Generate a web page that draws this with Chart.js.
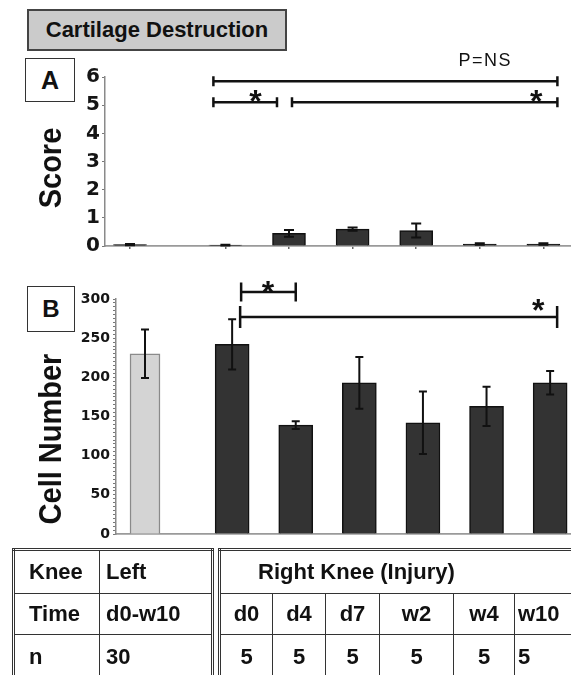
<!DOCTYPE html>
<html><head><meta charset="utf-8">
<script src="https://cdn.jsdelivr.net/npm/chart.js@4.4.1/dist/chart.umd.min.js"></script>
<style>
html,body{margin:0;padding:0;background:#fff;width:571px;height:675px;overflow:hidden;font-family:"Liberation Sans",Arial,sans-serif;}
body{position:relative;}
canvas{position:absolute;left:0;}
#cA{top:0px;}
#cB{top:262px;}
.box{position:absolute;background:#fff;border:1.5px solid #333;box-sizing:border-box;display:flex;align-items:center;justify-content:center;font-weight:bold;color:#111;}
#title{left:27px;top:9px;width:260px;height:42px;background:#cbcbcb;border:2px solid #444;font-size:22px;}
#boxA{left:25px;top:58px;width:50px;height:44px;font-size:25px;}
#boxB{left:27px;top:286px;width:48px;height:46px;font-size:24px;}
.ytitle{position:absolute;width:240px;height:34px;line-height:34px;text-align:center;font-weight:bold;font-size:29px;color:#111;transform:rotate(-90deg) scaleY(1.1);}
table{position:absolute;border-collapse:collapse;border:3px double #333;font-weight:bold;font-size:22px;color:#111;table-layout:fixed;}
td{border:1.5px solid #333;padding:0;white-space:nowrap;}
</style></head>
<body>
<canvas id="cA" width="571" height="260"></canvas>
<canvas id="cB" width="571" height="286"></canvas>
<div id="title" class="box">Cartilage Destruction</div>
<div id="boxA" class="box">A</div>
<div id="boxB" class="box">B</div>
<div class="ytitle" style="left:-70px;top:151px;">Score</div>
<div class="ytitle" style="left:-70px;top:422px;">Cell Number</div>
<table id="tLeft" style="left:12px;top:548px;width:199px;"></table>
<table id="tRight" style="left:218px;top:548px;width:362px;"></table>
<script>
// ---- data ----
const categories = ['Left','d0','d4','d7','w2','w4','w10'];
const scoreMeans = [0.05, 0.03, 0.45, 0.60, 0.55, 0.07, 0.07];
const scoreErrors = [0.02, 0.01, 0.12, 0.06, 0.25, 0.03, 0.03];
const cellMeans = [230, 242, 139, 193, 142, 163, 193];
const cellErrors = [31, 32, 5, 33, 40, 25, 15];
const scoreTicks = [0,1,2,3,4,5,6];
const cellTicks = [0,50,100,150,200,250,300];
const kneeRow = ['Knee','Left','Right Knee (Injury)'];
const timeRow = ['Time','d0-w10','d0','d4','d7','w2','w4','w10'];
const nRow = ['n','30','5','5','5','5','5','5'];
const scoreBrackets = [
  {from:'d0', to:'w10', level:5.85, label:'P=NS'},
  {from:'d0', to:'d4', level:5.1, label:'*'},
  {from:'d4', to:'w10', level:5.1, label:'*'}
];
const cellBrackets = [
  {from:'d0', to:'d4', level:309, label:'*'},
  {from:'d0', to:'w10', level:277, label:'*'}
];

// ---- layout / style ----
const STAR_FONT = 'bold 32px "Liberation Sans", Arial';
const scoreBracketStyle = [
  {dx1:-12, dx2:14, cap:5, pos:0.79, dy:-20, font:'18px "Liberation Sans", Arial', spacing:'1.5px', star:false},
  {dx1:-12, dx2:-12, cap:5, pos:0.66, dy:-9, font:STAR_FONT, star:true},
  {dx1:3, dx2:14, cap:5, pos:0.92, dy:-9, font:STAR_FONT, star:true}
];
const cellBracketStyle = [
  {dx1:9, dx2:0, cap:9.5, pos:0.49, dy:-7, font:STAR_FONT, star:true},
  {dx1:8, dx2:7, cap:11, pos:0.94, dy:-14, font:STAR_FONT, star:true}
];

function makeXPos(gap){ return i => (i === 0 ? 0 : gap + (i - 1)); }

const errorBarPlugin = {
  id: 'errorBars',
  afterDatasetsDraw(chart, args, opts){
    const ctx = chart.ctx, y = chart.scales.y;
    chart.data.datasets.forEach((ds, di) => {
      const meta = chart.getDatasetMeta(di);
      meta.data.forEach((el, i) => {
        const v = ds.data[i].y, e = ds.errors[i];
        const yt = y.getPixelForValue(v + e);
        const yb = y.getPixelForValue(Math.max(v - e, 0));
        const cap = opts.cap;
        ctx.save();
        ctx.strokeStyle = '#111';
        ctx.lineWidth = 2;
        ctx.beginPath();
        ctx.moveTo(el.x, yt); ctx.lineTo(el.x, yb);
        ctx.moveTo(el.x - cap, yt); ctx.lineTo(el.x + cap, yt);
        ctx.moveTo(el.x - cap, yb); ctx.lineTo(el.x + cap, yb);
        ctx.stroke();
        ctx.restore();
      });
    });
  }
};

function bracketPlugin(brackets, styles, xPos){
  return {
    id: 'brackets',
    afterDraw(chart){
      const ctx = chart.ctx, xs = chart.scales.x, ys = chart.scales.y;
      brackets.forEach((b, k) => {
        const st = styles[k];
        const x1 = xs.getPixelForValue(xPos(categories.indexOf(b.from))) + st.dx1;
        const x2 = xs.getPixelForValue(xPos(categories.indexOf(b.to))) + st.dx2;
        const yy = ys.getPixelForValue(b.level);
        ctx.save();
        ctx.strokeStyle = '#111';
        ctx.lineWidth = 2.5;
        ctx.beginPath();
        ctx.moveTo(x1, yy); ctx.lineTo(x2, yy);
        ctx.moveTo(x1, yy - st.cap); ctx.lineTo(x1, yy + st.cap);
        ctx.moveTo(x2, yy - st.cap); ctx.lineTo(x2, yy + st.cap);
        ctx.stroke();
        ctx.fillStyle = '#111';
        ctx.font = st.font;
        ctx.textAlign = 'center';
        const tx = x1 + (x2 - x1) * st.pos;
        if (st.star) {
          ctx.textBaseline = 'alphabetic';
          ctx.fillText(b.label, tx, yy + st.dy + 0.57 * 32);
        } else {
          if (st.spacing) ctx.letterSpacing = st.spacing;
          ctx.textBaseline = 'middle';
          ctx.fillText(b.label, tx, yy + st.dy);
        }
        ctx.restore();
      });
    }
  };
}

function makePanel(id, means, errors, cfg){
  const xPos = makeXPos(cfg.gap);
  const pts = means.map((m, i) => ({x: xPos(i), y: m}));
  return new Chart(document.getElementById(id), {
    type: 'bar',
    data: {
      datasets: [
        {data: pts.slice(0, 1), errors: errors.slice(0, 1), backgroundColor: cfg.leftFill, borderColor: cfg.leftBorder,
         borderWidth: 1.5, barThickness: cfg.leftWidth, grouped: false},
        {data: pts.slice(1), errors: errors.slice(1), backgroundColor: '#333333', borderColor: '#111',
         borderWidth: 1.5, barThickness: cfg.barWidth, grouped: false}
      ]
    },
    options: {
      responsive: false,
      animation: false,
      events: [],
      layout: {padding: {top: cfg.padTop, bottom: cfg.padBottom, left: 0, right: 0}},
      plugins: {legend: {display: false}, tooltip: {enabled: false}, errorBars: {cap: cfg.cap}},
      scales: {
        x: {
          type: 'linear', min: cfg.xMin, max: cfg.xMax, offset: false,
          afterBuildTicks: s => { s.ticks = means.map((m, i) => ({value: xPos(i)})); },
          afterFit: s => { s.height = cfg.xHeight; },
          ticks: {display: false},
          grid: {drawOnChartArea: false, drawTicks: cfg.xTickLen > 0, tickLength: cfg.xTickLen, color: '#666', lineWidth: 1.5, offset: false},
          border: {color: '#9a9a9a', width: 1.8}
        },
        y: {
          min: 0, max: cfg.yMax,
          afterFit: s => { s.width = cfg.yWidth; },
          ticks: {
            stepSize: cfg.step, autoSkip: false, maxTicksLimit: 1000,
            callback: v => (cfg.labels.includes(v) ? String(v) : ''),
            font: {family: '"DejaVu Sans", "Liberation Sans", Arial', weight: 'bold', size: cfg.tickSize},
            color: '#151515', padding: cfg.tickPad
          },
          grid: {drawOnChartArea: false, tickLength: 3, color: '#777', lineWidth: 1},
          border: {color: '#8a8a8a', width: 1.5}
        }
      }
    },
    plugins: [errorBarPlugin, bracketPlugin(cfg.brackets, cfg.bracketStyle, xPos)]
  });
}

makePanel('cA', scoreMeans, scoreErrors, {
  gap: 1.5, xMin: -0.393, xMax: 6.934, padTop: 77, padBottom: 8, xHeight: 4, xTickLen: 3,
  yWidth: 105, yMax: 6, step: 1, labels: scoreTicks, tickSize: 20, tickPad: 2,
  leftFill: '#333333', leftBorder: '#111', leftWidth: 33, barWidth: 33, cap: 5,
  brackets: scoreBrackets, bracketStyle: scoreBracketStyle
});
makePanel('cB', cellMeans, cellErrors, {
  gap: 1.37, xMin: -0.456, xMax: 6.698, padTop: 37, padBottom: 12, xHeight: 2, xTickLen: 0,
  yWidth: 116, yMax: 300, step: 5, labels: cellTicks, tickSize: 14, tickPad: 3,
  leftFill: '#d4d4d4', leftBorder: '#8a8a8a', leftWidth: 30, barWidth: 34, cap: 4,
  brackets: cellBrackets, bracketStyle: cellBracketStyle
});

// ---- table ----
function cell(txt, style){ const td = document.createElement('td'); td.textContent = txt; td.setAttribute('style', style || ''); return td; }
const rowH = [44, 41, 46];
const tL = document.getElementById('tLeft');
const cgL = document.createElement('colgroup');
[86, 113].forEach(w => { const c = document.createElement('col'); c.style.width = w + 'px'; cgL.appendChild(c); });
tL.appendChild(cgL);
[[kneeRow[0], kneeRow[1]], [timeRow[0], timeRow[1]], [nRow[0], nRow[1]]].forEach((r, ri) => {
  const tr = document.createElement('tr'); tr.style.height = rowH[ri] + 'px';
  tr.appendChild(cell(r[0], 'padding-left:14px;text-align:left;'));
  tr.appendChild(cell(r[1], 'padding-left:6px;text-align:left;'));
  tL.appendChild(tr);
});
const tR = document.getElementById('tRight');
const colW = [53, 53, 54, 74, 61, 67];
const cgR = document.createElement('colgroup');
colW.forEach(w => { const c = document.createElement('col'); c.style.width = w + 'px'; cgR.appendChild(c); });
tR.appendChild(cgR);
const tr0 = document.createElement('tr'); tr0.style.height = rowH[0] + 'px';
const h = cell(kneeRow[2], 'padding-left:37px;text-align:left;'); h.colSpan = 6; tr0.appendChild(h); tR.appendChild(tr0);
[timeRow.slice(2), nRow.slice(2)].forEach((r, ri) => {
  const tr = document.createElement('tr'); tr.style.height = rowH[ri + 1] + 'px';
  r.forEach((t, i) => tr.appendChild(cell(t, 'text-align:' + (i === 5 ? 'left;padding-left:3px;' : 'center;'))));
  tR.appendChild(tr);
});
</script>
</body></html>
